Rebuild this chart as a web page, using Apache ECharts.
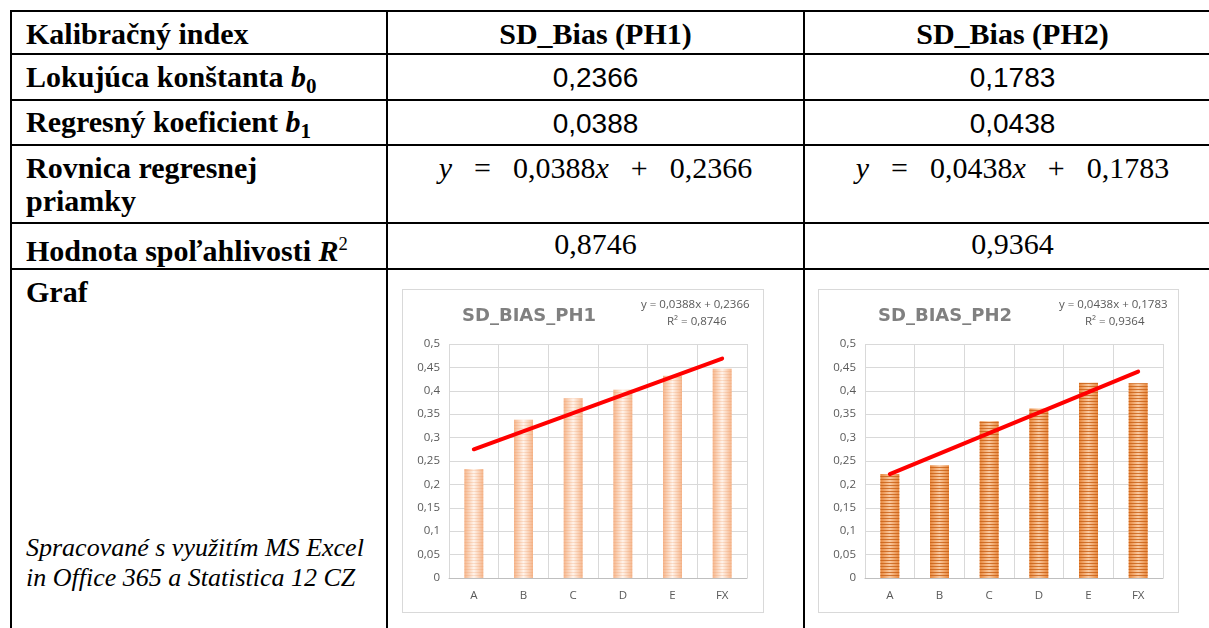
<!DOCTYPE html>
<html>
<head>
<meta charset="utf-8">
<script src="https://cdn.jsdelivr.net/npm/echarts@6/dist/echarts.min.js"></script>
<style>
  html, body { margin: 0; padding: 0; background: #ffffff; width: 1209px; height: 628px; overflow: hidden; }
  .ln { position: absolute; background: #000; }
  .t { position: absolute; white-space: nowrap; color: #000; }
  .lab { font-family: "Liberation Serif", "Times New Roman", serif; font-weight: bold; font-size: 30px; line-height: 32px; }
  .num { font-family: "Liberation Sans", Arial, sans-serif; font-size: 28px; line-height: 32px; text-align: center; }
  .math { font-family: "Liberation Serif", "Times New Roman", serif; font-size: 30px; line-height: 32px; text-align: center; }
  .math .g { display: inline-block; width: 22px; }
  .note { font-family: "Liberation Serif", "Times New Roman", serif; font-style: italic; font-size: 26px; line-height: 30px; }
  .chartbox { position: absolute; border: 1px solid #d9d9d9; background: #fff; }
  sub { font-size: 0.7em; vertical-align: -0.3em; }
  sup { font-size: 0.62em; }
</style>
</head>
<body>
<div id="page"></div>
<div id="c1" class="chartbox" style="left:402px; top:289px; width:360px; height:322px;"></div>
<div id="c2" class="chartbox" style="left:818px; top:289px; width:359px; height:322px;"></div>
<script>
// ---- data ----
const categories = ['A', 'B', 'C', 'D', 'E', 'FX'];
const ph1Values = [0.233, 0.338, 0.384, 0.402, 0.432, 0.447];
const ph2Values = [0.222, 0.241, 0.335, 0.362, 0.417, 0.416];
const ph1Trend = [0.275, null, null, null, null, 0.469];
const ph2Trend = [0.222, null, null, null, null, 0.441];
const columnHeaders = ['Kalibračný index', 'SD_Bias (PH1)', 'SD_Bias (PH2)'];
const ph1Stats = { b0: '0,2366', b1: '0,0388', r2: '0,8746' };
const ph2Stats = { b0: '0,1783', b1: '0,0438', r2: '0,9364' };
const chartTitles = ['SD_BIAS_PH1', 'SD_BIAS_PH2'];
const ph1Eq = ['y = 0,0388x + 0,2366', 'R² = 0,8746'];
const ph2Eq = ['y = 0,0438x + 0,1783', 'R² = 0,9364'];

// ---- table ----
const page = document.getElementById('page');
function line(x, y, w, h) {
  const d = document.createElement('div');
  d.className = 'ln';
  d.style.cssText = `left:${x}px;top:${y}px;width:${w}px;height:${h}px;`;
  page.appendChild(d);
}
function text(cls, html, x, y, w, extra) {
  const d = document.createElement('div');
  d.className = 't ' + cls;
  d.innerHTML = html;
  d.style.left = x + 'px';
  d.style.top = y + 'px';
  if (w) d.style.width = w + 'px';
  if (extra) Object.assign(d.style, extra);
  page.appendChild(d);
}
[10, 53, 99, 144, 222, 268].forEach(y => line(10, y, 1220, 2));
[10, 386, 803].forEach(x => line(x, 10, 2, 640));

const c2x = 388, c2w = 415, c3x = 805, c3w = 415;
text('lab', columnHeaders[0], 26, 18);
text('lab', columnHeaders[1], c2x, 18, c2w, { textAlign: 'center' });
text('lab', columnHeaders[2], c3x, 18, c3w, { textAlign: 'center' });

text('lab', 'Lokujúca konštanta <i>b</i><sub>0</sub>', 26, 61);
text('num', ph1Stats.b0, c2x, 62, c2w);
text('num', ph2Stats.b0, c3x, 62, c3w);

text('lab', 'Regresný koeficient <i>b</i><sub>1</sub>', 26, 106);
text('num', ph1Stats.b1, c2x, 108, c2w);
text('num', ph2Stats.b1, c3x, 108, c3w);

text('lab', 'Rovnica regresnej<br>priamky', 26, 151, null, { lineHeight: '33px' });
const eq = (b1, b0) => `<i>y</i><span class="g"></span>=<span class="g"></span>${b1}<i>x</i><span class="g"></span>+<span class="g"></span>${b0}`;
text('math', eq(ph1Stats.b1, ph1Stats.b0), c2x, 152, c2w);
text('math', eq(ph2Stats.b1, ph2Stats.b0), c3x, 152, c3w);

text('lab', 'Hodnota spoľahlivosti <i>R</i><sup style="font-weight:normal">2</sup>', 26, 228);
text('math', ph1Stats.r2, c2x, 228, c2w);
text('math', ph2Stats.r2, c3x, 228, c3w);

text('lab', 'Graf', 26, 276);
text('note', 'Spracované s využitím MS Excel<br>in Office 365 a Statistica 12 CZ', 26, 533);

// ---- charts ----
function makeChart(el, title, eqLines, values, trend, style) {
  const chart = echarts.init(el, null, { renderer: 'canvas' });
  chart.setOption({
    animation: false,
    title: {
      text: title, left: 54, top: 12,
      textStyle: { fontFamily: 'DejaVu Sans', fontSize: 18, fontWeight: 'bold', color: '#808080' }
    },
    graphic: [
      { type: 'text', left: style.eqCenter - 59, top: 9,
        style: { text: eqLines[0], font: '11.5px "Open Sans"', fill: '#595959' } },
      { type: 'text', left: style.eqCenter - 33, top: 26,
        style: { text: eqLines[1], font: '11.5px "Open Sans"', fill: '#595959' } }
    ],
    grid: { left: style.left, right: style.right, top: 54, bottom: 34, containLabel: false },
    xAxis: {
      type: 'category', data: categories,
      axisTick: { show: false },
      axisLine: { lineStyle: { color: '#bfbfbf', width: 1 } },
      axisLabel: { color: '#595959', fontSize: 11.5, fontFamily: 'Open Sans', margin: 12 },
      splitLine: { show: true, lineStyle: { color: '#d9d9d9', width: 1 } }
    },
    yAxis: {
      type: 'value', min: 0, max: 0.5, interval: 0.05,
      axisLine: { show: false }, axisTick: { show: false },
      axisLabel: { color: '#595959', fontSize: 11.5, fontFamily: 'Open Sans', margin: 9,
        formatter: v => String(+v.toFixed(2)).replace('.', ',') },
      splitLine: { lineStyle: { color: '#d9d9d9', width: 1 } }
    },
    series: [
      {
        type: 'bar', data: values, barWidth: 19, z: 2,
        itemStyle: {
          color: new echarts.graphic.LinearGradient(0, 0, 1, 0, [
            { offset: 0, color: style.edge },
            { offset: 0.5, color: style.mid },
            { offset: 1, color: style.edge }
          ]),
          decal: { symbol: 'rect', symbolSize: 1, color: style.stripe,
                   dashArrayX: [1, 0], dashArrayY: style.dash, rotation: 0 }
        }
      },
      {
        type: 'line', data: trend, connectNulls: true, symbol: 'none', z: 5,
        lineStyle: { color: '#ff0000', width: 4, cap: 'round' }
      }
    ]
  });
  return chart;
}
makeChart(document.getElementById('c1'), chartTitles[0], ph1Eq, ph1Values, ph1Trend,
  { left: 46, right: 16, eqCenter: 297, edge: '#f5b58b', mid: '#fff4ec', stripe: 'rgba(240,150,95,0.25)', dash: [1, 2] });
makeChart(document.getElementById('c2'), chartTitles[1], ph2Eq, ph2Values, ph2Trend,
  { left: 46, right: 15, eqCenter: 299, edge: '#e8873c', mid: '#f9c9a0', stripe: 'rgba(200,95,20,0.8)', dash: [1, 2] });
</script>
</body>
</html>
